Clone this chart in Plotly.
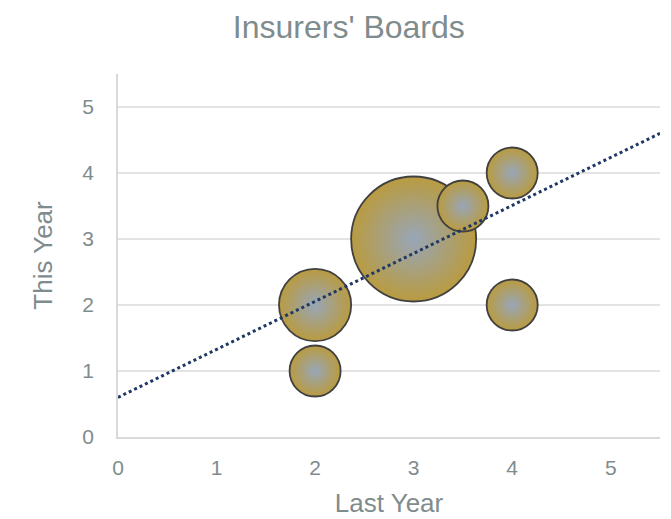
import plotly.graph_objects as go

# Bubble data
last_year = [2, 2, 3, 3.5, 4, 4]
this_year = [1, 2, 3, 3.5, 4, 2]
bubble_size = [1, 2, 6, 1, 1, 1]

# Linear trendline (as drawn in the source)
trend_x = [0, 5.5]
trend_y = [0.6, 4.6]

x_ticks = [0, 1, 2, 3, 4, 5]
y_ticks = [0, 1, 2, 3, 4, 5]

grey = "#7f8c8d"
max_diam = 125

fig = go.Figure()

fig.add_trace(go.Scatter(
    x=last_year, y=this_year,
    mode="markers",
    marker=dict(
        size=bubble_size,
        sizemode="area",
        sizeref=2.0 * max(bubble_size) / (max_diam ** 2),
        color="#b99b40",
        gradient=dict(type="radial", color="#98a6b8"),
        line=dict(color="#404040", width=1.8),
        opacity=1,
    ),
    showlegend=False,
))

fig.add_trace(go.Scatter(
    x=trend_x, y=trend_y,
    mode="lines",
    line=dict(color="#1f3864", width=3, dash="dot"),
    showlegend=False,
))

# page body has an 8px margin, so the figure is sized a little smaller
fig.update_layout(
    width=663, height=511,
    margin=dict(l=110, r=11, t=66, b=82),
    paper_bgcolor="white",
    plot_bgcolor="white",
    font=dict(family="Liberation Sans, Arial", color=grey),
    title=dict(text="Insurers' Boards", x=0.514, xanchor="center", y=0.964,
               yanchor="middle", font=dict(size=32, color=grey)),
)

fig.update_xaxes(
    range=[0, 5.5], tickvals=x_ticks,
    showgrid=False, zeroline=False,
    showline=True, linecolor="#d9d9d9", linewidth=1.5,
    tickfont=dict(size=21, color=grey), ticklabelstandoff=11,
    title=dict(text="Last Year", font=dict(size=26, color=grey), standoff=16),
    automargin=False,
)
fig.update_yaxes(
    range=[0, 5.5], tickvals=y_ticks,
    showgrid=True, gridcolor="#e3e3e3", gridwidth=1.5, zeroline=False,
    showline=True, linecolor="#d9d9d9", linewidth=1.5,
    tickfont=dict(size=21, color=grey), ticklabelstandoff=18,
    title=dict(text="This Year", font=dict(size=26, color=grey), standoff=22),
    automargin=False,
)

fig.write_html("out.html")
